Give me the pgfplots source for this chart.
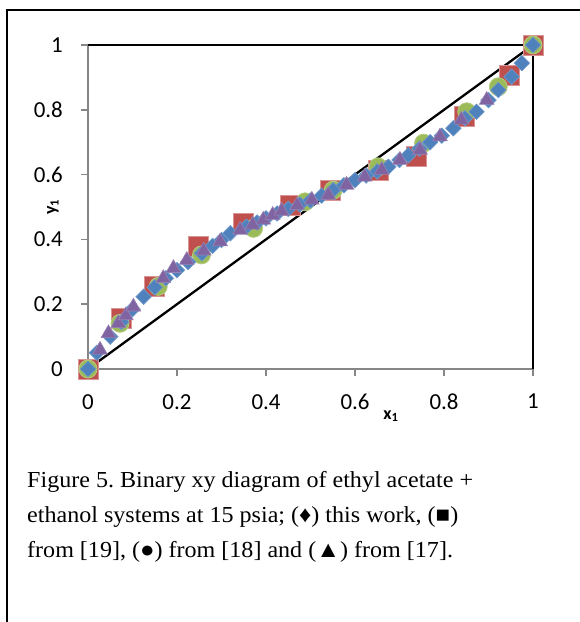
\documentclass[border=0pt]{standalone}
\usepackage{fontspec}
\setmainfont{Liberation Serif}
\newfontfamily\calibri{Carlito}
\newfontfamily\capfont[FakeStretch=1.05]{Liberation Serif}
\usepackage{pgfplots}
\pgfplotsset{compat=1.18}
\definecolor{exblue}{HTML}{4F81BD}
\definecolor{exred}{HTML}{C0504D}
\definecolor{exgreen}{HTML}{9BBB59}
\definecolor{expurple}{HTML}{8064A2}
\definecolor{axisgray}{HTML}{868686}
\frenchspacing
\begin{document}
\begin{tikzpicture}[x=1bp,y=1bp]
\useasboundingbox (0,0) rectangle (580,622);
\fill[white] (0,0) rectangle (580,622);
\draw[line width=2bp] (7,-20) -- (7,612) -- (620,612);
\begin{axis}[
  at={(88bp,253bp)}, anchor=origin,
  scale only axis, width=445bp, height=324bp,
  xmin=0, xmax=1, ymin=0, ymax=1, clip=false,
  axis x line=bottom, axis y line=left,
  axis line style={draw=axisgray, line width=2.2bp, -},
  xtick={0,0.2,0.4,0.6,0.8,1}, ytick={0,0.2,0.4,0.6,0.8,1},
  tick align=outside, major tick length=7bp,
  tick style={draw=axisgray, line width=1.5bp},
  /pgf/number format/assume math mode=true,
  tick label style={font=\calibri\fontsize{23}{23}\selectfont, inner sep=0pt},
  yticklabel style={anchor=east, xshift=-18bp},
  xticklabel style={anchor=north, yshift=-18bp},
]
\addplot[black, line width=1.8bp, mark=none] coordinates {(0,1) (1,1) (1,0)};
% Red squares [19]
\addplot[only marks, mark=square*, mark size=10bp, mark options={fill=exred, draw=exred!60!white, line width=0.9bp}] coordinates {
(0,0) (0.076,0.156) (0.15,0.254) (0.248,0.377) (0.349,0.45) (0.454,0.506)
(0.544,0.552) (0.652,0.614) (0.739,0.655) (0.847,0.779) (0.948,0.907) (1,1)};
% Green circles [18]
\addplot[only marks, mark=*, mark size=9bp, mark options={fill=exgreen, draw=exgreen!75!white, line width=0.8bp}] coordinates {
(0,0) (0.072,0.141) (0.158,0.255) (0.255,0.352) (0.372,0.434) (0.488,0.516)
(0.551,0.552) (0.652,0.624) (0.754,0.697) (0.851,0.794) (0.922,0.871) (1,1)};
% Blue diamonds (this work)
\addplot[only marks, mark=square*, mark size=5.5bp, mark options={rotate=45, fill=exblue, draw=exblue!80!white, line width=0.6bp}] coordinates {
(0,0) (0.02,0.05) (0.05,0.10) (0.075,0.145) (0.10,0.185) (0.125,0.223)
(0.15,0.252) (0.175,0.28) (0.20,0.305) (0.225,0.33) (0.256,0.357) (0.28,0.38)
(0.30,0.398) (0.32,0.419) (0.356,0.439) (0.38,0.452) (0.40,0.465) (0.425,0.48)
(0.45,0.494) (0.476,0.508) (0.50,0.52) (0.525,0.535) (0.551,0.552) (0.575,0.567)
(0.60,0.583) (0.625,0.597) (0.65,0.61) (0.675,0.624) (0.70,0.645) (0.72,0.66)
(0.745,0.68) (0.769,0.70) (0.795,0.72) (0.821,0.743) (0.847,0.774) (0.873,0.794)
(0.90,0.83) (0.922,0.861) (0.952,0.902) (0.975,0.944) (1,1)};
% Purple triangles [17]
\addplot[only marks, mark=triangle*, mark size=8.5bp, mark options={fill=expurple, draw=expurple!80!white, line width=0.6bp}] coordinates {
(0.027,0.059) (0.046,0.11) (0.068,0.141) (0.085,0.165) (0.102,0.192)
(0.169,0.28) (0.192,0.311) (0.222,0.336) (0.26,0.365) (0.297,0.393)
(0.342,0.429) (0.37,0.445) (0.394,0.46) (0.415,0.475) (0.435,0.488)
(0.47,0.505) (0.503,0.522) (0.54,0.537) (0.581,0.568) (0.622,0.593)
(0.66,0.614) (0.701,0.645) (0.746,0.676) (0.791,0.717) (0.839,0.769) (0.896,0.83)};
% Diagonal
\addplot[black, line width=2.3bp, mark=none] coordinates {(0,0) (1,1)};
\end{axis}
\node[font=\calibri\bfseries\fontsize{18}{18}\selectfont, inner sep=0pt] at (391,206) {x\textsubscript{1}};
\node[font=\calibri\bfseries\fontsize{18}{18}\selectfont, inner sep=0pt, rotate=90] at (53,415) {y\textsubscript{1}};
\begin{scope}[every node/.style={anchor=base west, inner sep=0pt, font=\capfont\fontsize{23}{23}\selectfont}]
\node at (27,134) {Figure 5. Binary xy diagram of ethyl acetate +};
\node at (27,99) {ethanol systems at 15 psia; (♦) this work, (■)};
\node at (27,64) {from [19], (●) from [18] and (▲) from [17].};
\end{scope}
\end{tikzpicture}
\end{document}
